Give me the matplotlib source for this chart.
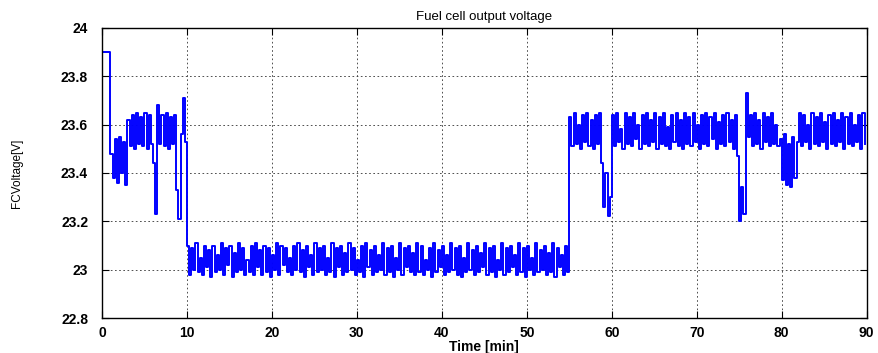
import numpy as np
import matplotlib
matplotlib.use("Agg")
import matplotlib.pyplot as plt

plt.rcParams['font.family'] = ['Liberation Sans', 'DejaVu Sans']

# サンプリング間隔 [min]
sample_step = 0.25

# 区間ごとの電圧値 [V]
v_start = [23.90, 23.90, 23.90, 23.90]
v_low_1 = [23.48, 23.38, 23.54, 23.36, 23.55, 23.40, 23.53, 23.35]
v_high_1 = [23.62, 23.51, 23.64, 23.50, 23.65, 23.52, 23.63, 23.51, 23.65, 23.50, 23.64, 23.52]
v_dip_1 = [23.44, 23.23, 23.68]
v_high_2 = [23.52, 23.64, 23.51, 23.65, 23.50, 23.63, 23.52, 23.64]
v_dip_2 = [23.33, 23.21, 23.56, 23.71, 23.53]
v_load = [
    23.10, 22.98, 23.09, 23.00, 23.11, 22.99, 23.05, 22.98, 23.10, 23.01, 23.08, 22.97,
    23.10, 22.99, 23.06, 23.00, 23.11, 22.98, 23.09, 23.02, 23.10, 22.97, 23.07, 22.99,
    23.11, 23.00, 23.09, 22.98, 23.04, 22.99, 23.10, 22.98, 23.11, 23.01, 23.08, 22.98,
    23.10, 22.99, 23.09, 22.97, 23.06, 23.00, 23.11, 22.98, 23.10, 23.02, 23.09, 22.99,
    23.05, 22.98, 23.10, 23.00, 23.11, 22.99, 23.08, 22.97, 23.10, 23.01, 23.06, 22.98,
    23.11, 22.99, 23.09, 23.00, 23.10, 22.98, 23.05, 22.99, 23.11, 22.97, 23.09, 23.01,
    23.10, 22.98, 23.07, 22.99, 23.11, 23.00, 23.09, 22.98, 23.04, 22.99, 23.10, 22.97,
    23.11, 23.01, 23.08, 22.98, 23.10, 22.99, 23.06, 23.00, 23.11, 22.98, 23.09, 22.99,
    23.10, 22.97, 23.05, 23.00, 23.11, 22.98, 23.09, 23.01, 23.10, 22.99, 23.07, 22.98,
    23.11, 22.99, 23.10, 22.98, 23.04, 23.00, 23.09, 22.97, 23.11, 22.99, 23.08, 23.01,
    23.10, 22.98, 23.06, 22.99, 23.11, 23.00, 23.09, 22.98, 23.10, 22.97, 23.05, 22.99,
    23.11, 23.00, 23.08, 22.98, 23.10, 22.99, 23.07, 23.01, 23.11, 22.98, 23.09, 22.99,
    23.10, 22.97, 23.04, 23.00, 23.11, 22.98, 23.09, 22.99, 23.10, 23.01, 23.06, 22.98,
    23.11, 22.99, 23.09, 22.97, 23.10, 23.00, 23.05, 22.98, 23.11, 22.99, 23.08, 23.00,
    23.10, 22.98, 23.07, 22.99, 23.11, 22.97, 23.09, 23.01, 23.06, 22.98, 23.10, 22.99,
]
v_high_3 = [23.63, 23.51, 23.65, 23.52, 23.60, 23.50, 23.64, 23.53, 23.65, 23.51, 23.62, 23.50, 23.64, 23.52, 23.65]
v_dip_3 = [23.44, 23.26, 23.40, 23.22, 23.30]
v_high_4 = [
    23.64, 23.51, 23.65, 23.53, 23.58, 23.50, 23.65, 23.52, 23.63, 23.51, 23.65, 23.54,
    23.60, 23.50, 23.64, 23.52, 23.65, 23.51, 23.62, 23.53, 23.65, 23.50, 23.63, 23.52,
    23.65, 23.51, 23.59, 23.50, 23.64, 23.53, 23.65, 23.51, 23.62, 23.50, 23.65, 23.52,
    23.63, 23.51, 23.65, 23.53, 23.60, 23.50, 23.64, 23.52, 23.65, 23.51, 23.63, 23.54,
    23.65, 23.50, 23.61, 23.52, 23.64, 23.51, 23.65, 23.53, 23.62, 23.50, 23.64,
]
v_dip_4 = [23.47, 23.20, 23.34, 23.23, 23.73]
v_high_5 = [23.55, 23.64, 23.51, 23.65, 23.52, 23.62, 23.50, 23.65, 23.53, 23.63, 23.51, 23.65, 23.52, 23.60, 23.51]
v_low_2 = [23.54, 23.37, 23.56, 23.35, 23.52, 23.34, 23.55, 23.38, 23.53]
v_high_6 = [
    23.65, 23.51, 23.64, 23.53, 23.60, 23.50, 23.65, 23.52, 23.63, 23.51, 23.65, 23.53,
    23.61, 23.50, 23.64, 23.52, 23.65, 23.51, 23.62, 23.53, 23.65, 23.50, 23.63, 23.52,
    23.65, 23.51, 23.60, 23.53, 23.64, 23.50, 23.65, 23.52,
]

voltage = np.array(v_start + v_low_1 + v_high_1 + v_dip_1 + v_high_2 + v_dip_2 + v_load
                   + v_high_3 + v_dip_3 + v_high_4 + v_dip_4 + v_high_5 + v_low_2 + v_high_6)
time = np.arange(len(voltage)) * sample_step

fig = plt.figure(figsize=(8.79, 3.53), dpi=100)
ax = fig.add_axes([0.116, 0.099, 0.870, 0.822])

ax.plot(time, voltage, color='#0000ff', linewidth=1.4, drawstyle='steps-post')

ax.set_xlim(0, 90)
ax.set_ylim(22.8, 24)
ax.set_xticks(np.arange(0, 91, 10))
ax.set_yticks([22.8, 23, 23.2, 23.4, 23.6, 23.8, 24])
ax.set_yticklabels(['22.8', '23', '23.2', '23.4', '23.6', '23.8', '24'])

ax.grid(True, color='#333333', linestyle=(0, (2, 3)), linewidth=0.6)
ax.tick_params(direction='in', top=True, right=True, length=5, width=0.8)
ax.tick_params(axis='y', pad=10)
ax.tick_params(axis='x', pad=6)
for lbl in ax.get_xticklabels() + ax.get_yticklabels():
    lbl.set_fontweight('bold')
    lbl.set_fontsize(10)
for s in ax.spines.values():
    s.set_linewidth(1.0)

ax.set_title('Fuel cell output voltage', fontsize=9.5, pad=6)
ax.set_xlabel('Time [min]', fontsize=10, fontweight='bold', labelpad=0)
ax.set_ylabel('FCVoltage[V]', fontsize=8.5, labelpad=27)

fig.savefig('out.png', dpi=100)
